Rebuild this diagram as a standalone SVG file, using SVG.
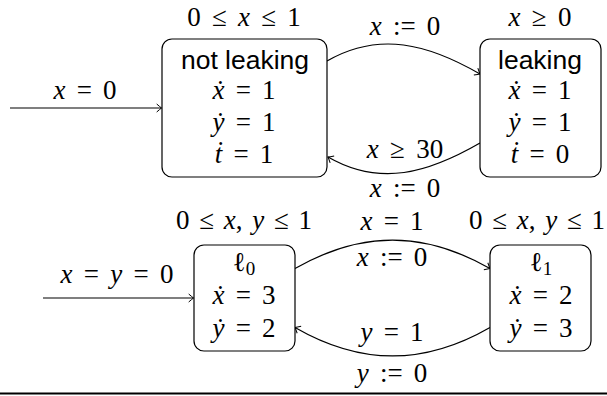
<svg xmlns="http://www.w3.org/2000/svg" width="607" height="396" viewBox="0 0 607 396">
<defs>
<style>
.box{fill:#fff;stroke:#000;stroke-width:1.2}
.edge{fill:none;stroke:#000;stroke-width:1.2;marker-end:url(#to)}
.m{font-family:"Liberation Serif","DejaVu Serif",serif;font-size:27px;word-spacing:4.5px;text-anchor:middle;fill:#000}
.inv{word-spacing:3px}
.i{font-style:italic}
.s{font-family:"Liberation Sans",Arial,sans-serif;font-size:26.5px;text-anchor:middle;fill:#000}
.sub{font-size:19px}
</style>
<marker id="to" markerUnits="userSpaceOnUse" viewBox="-6 -5 7 10" refX="0" refY="0" markerWidth="7" markerHeight="10" orient="auto">
<path d="M-4.8,-4 Q-1.6,-1.2 0,0 Q-1.6,1.2 -4.8,4" fill="none" stroke="#000" stroke-width="1"/>
</marker>
</defs>
<rect width="607" height="396" fill="#fff"/>

<g id="connectors">
<line x1="10" y1="108" x2="161.5" y2="108" class="edge"/>
<path d="M327,61 C379,31 428,44 480,74" class="edge"/>
<path d="M480,143 C428,173 380,187 328,157" class="edge"/>
<line x1="43" y1="298" x2="193.5" y2="298" class="edge"/>
<path d="M295,268.6 C361,230.6 424,230.6 490,268.6" class="edge"/>
<path d="M490,327.4 C424,365.4 361,365.4 295,327.4" class="edge"/>
</g>

<g id="labels">
<text x="85" y="99" class="m"><tspan class="i">x</tspan> = 0</text>
<text x="405" y="35" class="m"><tspan class="i">x</tspan> := 0</text>
<text x="405" y="158" class="m"><tspan class="i">x</tspan> ≥ 30</text>
<text x="405" y="197" class="m"><tspan class="i">x</tspan> := 0</text>
<text x="117" y="283" class="m"><tspan class="i">x</tspan> = <tspan class="i">y</tspan> = 0</text>
<text x="392" y="230" class="m"><tspan class="i">x</tspan> = 1</text>
<text x="392" y="266" class="m"><tspan class="i">x</tspan> := 0</text>
<text x="392" y="341" class="m"><tspan class="i">y</tspan> = 1</text>
<text x="392" y="382" class="m"><tspan class="i">y</tspan> := 0</text>
</g>

<g id="not-leaking">
<rect x="162" y="39" width="165" height="138" rx="10" class="box"/>
<text x="244" y="26" class="m">0 ≤ <tspan class="i">x</tspan> ≤ 1</text>
<text x="245" y="69" class="s">not leaking</text>
<text x="244" y="99" class="m"><tspan class="i">ẋ</tspan> = 1</text>
<text x="244" y="131" class="m"><tspan class="i">ẏ</tspan> = 1</text>
<text x="244" y="163" class="m"><tspan class="i">ṫ</tspan> = 1</text>
</g>

<g id="leaking">
<rect x="480" y="39" width="121" height="138" rx="10" class="box"/>
<text x="540" y="26" class="m"><tspan class="i">x</tspan> ≥ 0</text>
<text x="540" y="69" class="s">leaking</text>
<text x="540" y="99" class="m"><tspan class="i">ẋ</tspan> = 1</text>
<text x="540" y="131" class="m"><tspan class="i">ẏ</tspan> = 1</text>
<text x="540" y="163" class="m"><tspan class="i">ṫ</tspan> = 0</text>
</g>

<g id="l0">
<rect x="194" y="245" width="101" height="106" rx="10" class="box"/>
<text x="244" y="229" class="m inv">0 ≤ <tspan class="i">x</tspan>, <tspan class="i">y</tspan> ≤ 1</text>
<text x="244" y="271" class="m">ℓ<tspan class="sub" dy="4">0</tspan></text>
<text x="244" y="304" class="m"><tspan class="i">ẋ</tspan> = 3</text>
<text x="244" y="337" class="m"><tspan class="i">ẏ</tspan> = 2</text>
</g>

<g id="l1">
<rect x="490" y="245" width="101" height="106" rx="10" class="box"/>
<text x="537" y="229" class="m inv">0 ≤ <tspan class="i">x</tspan>, <tspan class="i">y</tspan> ≤ 1</text>
<text x="541" y="271" class="m">ℓ<tspan class="sub" dy="4">1</tspan></text>
<text x="541" y="304" class="m"><tspan class="i">ẋ</tspan> = 2</text>
<text x="541" y="337" class="m"><tspan class="i">ẏ</tspan> = 3</text>
</g>

<line x1="0" y1="393.5" x2="607" y2="393.5" stroke="#000" stroke-width="2"/>
</svg>
